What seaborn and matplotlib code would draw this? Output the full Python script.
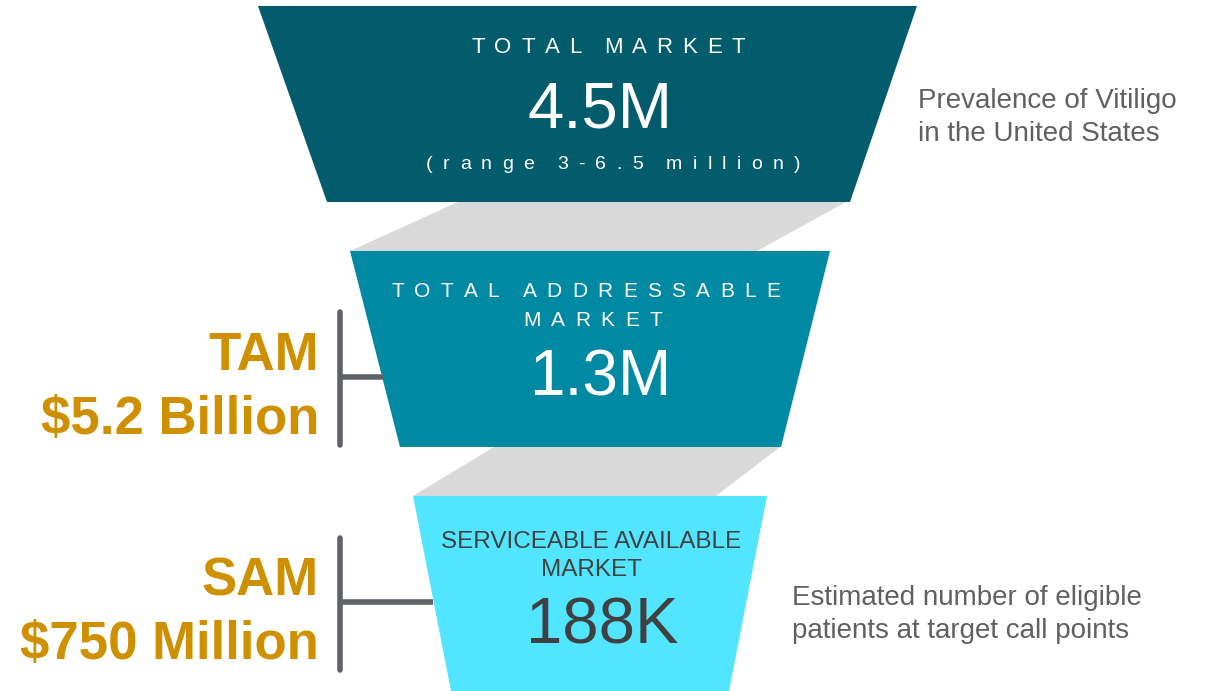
import matplotlib
matplotlib.use('Agg')
import matplotlib.pyplot as plt
import seaborn as sns

# funnel stages (top -> bottom)
stage_titles = [["TOTAL MARKET"], ["TOTAL ADDRESSABLE", "MARKET"],
                ["SERVICEABLE AVAILABLE", "MARKET"]]
stage_values = ["4.5M", "1.3M", "188K"]
stage_subtitle = "(range 3-6.5 million)"
stage_colors = ["#035C6B", "#0089A3", "#52E5FF"]
stage_text_colors = ["white", "white", "#404040"]
# trapezoid geometry in pixels: (y_top, y_bottom, x_top_left, x_top_right, x_bot_left, x_bot_right)
stage_shapes = [(6, 202, 258, 917, 327, 850),
                (251, 447, 350, 830, 400, 781),
                (496, 691, 413, 767, 451, 729)]
# grey connectors between stages
connector_shapes = [(202, 251, 458, 846, 350, 757),
                    (447, 496, 494, 780, 413, 716)]

side_notes = [["Prevalence of Vitiligo", "in the United States"],
              ["Estimated number of eligible", "patients at target call points"]]
market_labels = ["TAM", "SAM"]
market_values = ["$5.2 Billion", "$750 Million"]

GOLD = "#CF9000"
LINE = "#5F6368"
NOTE = "#5F6062"

sns.set_theme(style="white")
plt.rcParams['font.family'] = ['Liberation Sans', 'DejaVu Sans']

fig = plt.figure(figsize=(12.07, 6.91), dpi=100)
ax = fig.add_axes([0, 0, 1, 1])
ax.set_xlim(0, 1207)
ax.set_ylim(691, 0)
ax.axis("off")
renderer = fig.canvas.get_renderer()


def spaced_text(x0, x1, y, s, **kw):
    """letter-spaced text filling the span x0..x1"""
    widths = []
    for ch in s:
        t = ax.text(0, 0, ch if ch != " " else "i", **kw)
        w = t.get_window_extent(renderer).width
        if ch == " ":
            w *= 0.6
        widths.append(w)
        t.remove()
    gap = (x1 - x0 - sum(widths)) / (len(s) - 1)
    x = x0
    for ch, w in zip(s, widths):
        if ch != " ":
            ax.text(x, y, ch, ha="left", va="center", **kw)
        x += w + gap


for (yt, yb, tl, tr, bl, br) in connector_shapes:
    ax.fill([tl, tr, br, bl], [yt, yt, yb, yb], color="#D9D9D9", lw=0)

for (yt, yb, tl, tr, bl, br), c in zip(stage_shapes, stage_colors):
    ax.fill([tl, tr, br, bl], [yt, yt, yb, yb], color=c, lw=0)

# stage 1 text
spaced_text(471, 745, 47, stage_titles[0][0], color="white", fontsize=16)
ax.text(600, 110, stage_values[0], color="white", fontsize=47, ha="center", va="center")
spaced_text(426, 800, 164, stage_subtitle, color="white", fontsize=14)

# stage 2 text
spaced_text(391, 780, 291, stage_titles[1][0], color="white", fontsize=15)
spaced_text(523, 662, 320, stage_titles[1][1], color="white", fontsize=15)
ax.text(600, 378, stage_values[1], color="white", fontsize=46, ha="center", va="center")

# stage 3 text
ax.text(591, 542, stage_titles[2][0], color=stage_text_colors[2], fontsize=17.5,
        ha="center", va="center")
ax.text(591, 570, stage_titles[2][1], color=stage_text_colors[2], fontsize=17.5,
        ha="center", va="center")
ax.text(602, 626, stage_values[2], color=stage_text_colors[2], fontsize=47, ha="center",
        va="center")

# side notes
for (l1, l2), x, y in zip(side_notes, [918, 792], [101, 598]):
    ax.text(x, y, l1, color=NOTE, fontsize=20, ha="left", va="center")
    ax.text(x, y + 33, l2, color=NOTE, fontsize=20, ha="left", va="center")

# brackets + market size labels
brackets = [(312, 445, 377, 383), (538, 670, 602, 433)]
for (y0, y1, ym, xe), lab, val in zip(brackets, market_labels, market_values):
    ax.plot([340, 340], [y0, y1], color=LINE, lw=4, solid_capstyle="round")
    ax.plot([340, xe], [ym, ym], color=LINE, lw=4, solid_capstyle="butt")
    ax.text(319, (y0 + y1) / 2 - 23, lab, color=GOLD, fontsize=38, fontweight="bold",
            ha="right", va="center")
    ax.text(319, (y0 + y1) / 2 + 41, val, color=GOLD, fontsize=38, fontweight="bold",
            ha="right", va="center")

fig.savefig("out.png", dpi=100)
